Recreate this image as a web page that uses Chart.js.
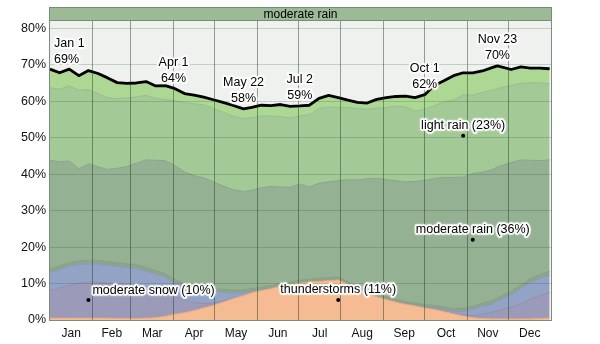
<!DOCTYPE html>
<html>
<head>
<meta charset="utf-8">
<script src="https://cdn.jsdelivr.net/npm/chart.js@4.4.0/dist/chart.umd.min.js"></script>
<style>
  html, body { margin: 0; padding: 0; background: #fff; }
  #wrap { width: 600px; height: 344px; }
</style>
</head>
<body>
<div id="wrap"><canvas id="chart" width="600" height="344"></canvas></div>
<script>
// Daily chance of each precipitation type (%), sampled through the year.
// days = day of year, 0 = Jan 1
const days = [0, 7, 14, 21, 28, 35, 42, 49, 56, 63, 70, 77, 84, 90, 98, 105, 112, 119, 126, 133,
  141, 147, 154, 161, 168, 175, 182, 189, 196, 203, 210, 217, 224, 231, 238, 245, 252, 259, 266, 273,
  280, 287, 294, 301, 308, 315, 322, 326, 336, 343, 350, 357, 364];

const thunderstorms = [0.5, 0.5, 0.5, 0.5, 0.5, 0.5, 0.5, 0.4, 0.4, 0.4, 0.5, 0.6, 1.0, 1.5, 2.0, 2.6, 3.3, 4.0, 4.9, 5.8,
  6.7, 7.5, 8.1, 8.6, 9.3, 9.6, 10.1, 10.4, 10.6, 10.8, 11.0, 9.8, 8.4, 7.2, 6.4, 5.6, 4.9, 4.3, 3.9, 3.3,
  2.9, 2.3, 1.7, 1.1, 0.6, 0.4, 0.3, 0.3, 0.3, 0.3, 0.3, 0.4, 0.5];

const moderateSnow = [7.5, 8.3, 9.0, 9.5, 10.0, 9.8, 9.7, 9.6, 9.4, 9.0, 8.5, 7.6, 6.5, 5.0, 3.5, 2.2, 1.2, 0.6, 0.3, 0.1,
  0, 0, 0, 0, 0, 0, 0, 0, 0, 0, 0, 0, 0, 0, 0, 0, 0, 0, 0, 0,
  0.1, 0.2, 0.2, 0.3, 0.6, 1.2, 1.8, 2.2, 3.2, 4.1, 5.4, 6.3, 7.0];

const lightSnow = [5.0, 5.0, 5.3, 5.2, 4.9, 5.0, 4.8, 4.7, 4.6, 4.8, 4.4, 4.4, 4.2, 3.8, 3.6, 3.4, 3.3, 3.1, 2.4, 1.5,
  0.8, 0.3, 0.1, 0, 0, 0, 0, 0, 0, 0, 0, 0, 0, 0, 0, 0, 0, 0, 0.1, 0.2,
  0.3, 0.4, 0.5, 0.9, 1.8, 2.2, 2.3, 2.7, 3.5, 4.2, 4.6, 4.8, 4.7];

const heavyRain = [1.0, 1.0, 1.0, 1.0, 1.0, 1.0, 1.0, 1.0, 1.0, 1.0, 1.0, 1.0, 1.0, 1.0, 0.9, 0.9, 0.9, 0.8, 0.8, 0.8,
  0.8, 0.8, 0.8, 0.8, 0.8, 0.8, 0.8, 0.8, 0.8, 0.8, 0.8, 0.8, 0.8, 0.8, 0.8, 0.8, 0.8, 0.7, 0.7, 0.7,
  0.7, 0.7, 0.7, 0.9, 0.8, 0.8, 0.9, 0.9, 0.9, 1.0, 1.0, 1.0, 1.1];

const moderateRain = [29.8, 28.6, 27.8, 25.3, 26.4, 25.7, 25.3, 25.9, 26.7, 27.8, 29.5, 30.2, 31.0, 31.3, 30.6, 30.5, 30.3, 29.4, 28.4, 27.6,
  26.9, 27.0, 27.3, 27.2, 26.4, 26.0, 26.4, 25.3, 26.1, 26.3, 26.4, 27.9, 29.2, 30.7, 31.7, 32.1, 32.5, 32.9, 33.3, 34.1,
  34.8, 35.5, 36.0, 36.0, 36.4, 35.9, 35.9, 35.9, 35.3, 34.3, 32.5, 31.2, 30.6];

const lightRain = [19.9, 19.9, 20.6, 21.5, 20.4, 20.0, 19.7, 19.1, 18.8, 18.2, 17.7, 17.0, 16.8, 17.6, 19.0, 19.7, 20.0, 20.1, 20.2, 20.2,
  20.0, 19.9, 19.7, 19.3, 19.3, 19.0, 18.7, 19.8, 20.5, 20.5, 20.1, 19.8, 19.6, 19.1, 19.2, 19.8, 20.5, 20.6, 19.3, 19.5,
  20.0, 20.7, 21.2, 22.6, 21.5, 21.9, 21.8, 21.5, 21.1, 21.0, 21.3, 21.3, 20.9];

const drizzle = [5.1, 4.5, 4.6, 4.0, 5.2, 5.6, 5.4, 4.4, 4.0, 3.8, 3.8, 3.4, 3.8, 3.4, 2.5, 2.4, 2.1, 2.4, 2.7, 2.9,
  2.7, 2.8, 2.9, 2.9, 3.3, 3.2, 2.7, 2.6, 2.8, 3.2, 2.7, 2.0, 1.7, 1.7, 2.4, 2.7, 2.6, 2.9, 3.7, 4.0,
  5.5, 5.8, 6.7, 6.0, 6.1, 5.9, 6.2, 6.2, 4.4, 4.5, 4.0, 4.1, 4.1];

const monthNames = ['Jan', 'Feb', 'Mar', 'Apr', 'May', 'Jun', 'Jul', 'Aug', 'Sep', 'Oct', 'Nov', 'Dec'];
const monthStarts = [0, 31, 59, 90, 120, 151, 181, 212, 243, 273, 304, 334, 365];
const yTicks = [0, 10, 20, 30, 40, 50, 60, 70, 80];

// dates called out on the total line
const markDays = [0, 90, 141, 182, 273, 326];
const markDates = ['Jan 1', 'Apr 1', 'May 22', 'Jul 2', 'Oct 1', 'Nov 23'];

const titleText = 'moderate rain';

const FONT = '"Liberation Sans", Arial, sans-serif';

// stacked bottom -> top
const layers = [
  { name: 'thunderstorms', values: thunderstorms, fill: '#f5bb92', edge: '#eaa97c', tag: true },
  { name: 'moderate snow', values: moderateSnow, fill: '#9b9bb9', edge: '#8e8fb0', tag: true },
  { name: 'light snow', values: lightSnow, fill: '#92a3c6', edge: '#8898bd' },
  { name: 'heavy rain', values: heavyRain, fill: '#8ca488', edge: '#869e84' },
  { name: 'moderate rain', values: moderateRain, fill: '#94b194', edge: '#89a689', tag: true },
  { name: 'light rain', values: lightRain, fill: '#a3c997', edge: '#97bd8d', tag: true },
  { name: 'drizzle', values: drizzle, fill: '#acd894', edge: '#a0cc8a' }
];

const total = days.map((d, k) => layers.reduce((s, l) => s + l.values[k], 0));
const monthMids = monthNames.map((m, i) => (monthStarts[i] + monthStarts[i + 1]) / 2);

const datasets = [{
  label: 'total',
  data: days.map((d, k) => ({ x: d, y: total[k] })),
  borderColor: '#000',
  borderWidth: 2.8,
  borderJoinStyle: 'round',
  fill: false,
  pointRadius: 0,
  stack: 'total'
}];
layers.forEach((l, i) => {
  datasets.push({
    label: l.name,
    data: days.map((d, k) => ({ x: d, y: l.values[k] })),
    backgroundColor: l.fill,
    borderColor: l.edge,
    borderWidth: 1,
    fill: i === 0 ? 'origin' : '-1',
    pointRadius: 0,
    stack: 'wx'
  });
});

function haloText(ctx, text, x, y, align, size) {
  ctx.save();
  ctx.font = (size || 12) + 'px ' + FONT;
  ctx.textAlign = align;
  ctx.textBaseline = 'middle';
  ctx.lineJoin = 'round';
  ctx.strokeStyle = 'rgba(255,255,255,0.85)';
  ctx.lineWidth = 3.5;
  ctx.shadowColor = 'rgba(255,255,255,0.9)';
  ctx.shadowBlur = 2;
  ctx.strokeText(text, x, y);
  ctx.shadowBlur = 0;
  ctx.fillStyle = '#000';
  ctx.fillText(text, x, y);
  ctx.restore();
}

const plotBg = {
  id: 'plotBg',
  beforeDraw(chart) {
    const { ctx, chartArea: a } = chart;
    ctx.save();
    ctx.fillStyle = '#eef1ee';
    ctx.fillRect(a.left, a.top, a.right - a.left, a.bottom - a.top);
    ctx.restore();
  }
};

const overlay = {
  id: 'overlay',
  afterDraw(chart) {
    const { ctx, chartArea: a } = chart;
    const xs = chart.scales.x, ys = chart.scales.y;

    // frame
    ctx.save();
    ctx.strokeStyle = '#7f8a7f';
    ctx.lineWidth = 1;
    ctx.strokeRect(a.left - 0.5, a.top - 0.5, a.right - a.left + 1, a.bottom - a.top + 1);

    // title bar
    ctx.fillStyle = '#9dba97';
    ctx.fillRect(a.left - 0.5, 7.5, a.right - a.left + 1, a.top - 8);
    ctx.strokeStyle = '#758f75';
    ctx.strokeRect(a.left - 0.5, 7.5, a.right - a.left + 1, a.top - 8);
    ctx.fillStyle = '#000';
    ctx.font = '12px ' + FONT;
    ctx.textAlign = 'center';
    ctx.textBaseline = 'middle';
    ctx.fillText(titleText, (a.left + a.right) / 2, 14.5);
    ctx.restore();

    // date callouts above the total line
    ctx.save();
    ctx.font = '12.5px ' + FONT;
    markDays.forEach((d, i) => {
      const k = days.indexOf(d);
      const px = xs.getPixelForValue(d);
      const py = ys.getPixelForValue(total[k]);
      const pct = Math.round(total[k]) + '%';
      const w = Math.max(ctx.measureText(markDates[i]).width, ctx.measureText(pct).width);
      let x = px, align = 'center';
      if (px - w / 2 < a.left + 2) { x = a.left + 4; align = 'left'; }
      haloText(ctx, pct, x, py - 10, align, 12.5);
      haloText(ctx, markDates[i], x, py - 26, align, 12.5);
    });
    ctx.restore();

    // layer tags at each layer's peak
    let base = days.map(() => 0);
    layers.forEach(l => {
      if (l.tag) {
        let k = 0;
        l.values.forEach((v, j) => { if (v > l.values[k]) k = j; });
        const v = l.values[k];
        const px = xs.getPixelForValue(days[k]);
        const py = ys.getPixelForValue(base[k] + v / 2);
        ctx.save();
        ctx.fillStyle = '#000';
        ctx.beginPath();
        ctx.arc(px, py, 2, 0, Math.PI * 2);
        ctx.fill();
        ctx.font = '12.5px ' + FONT;
        const text = l.name + ' (' + Math.round(v) + '%)';
        const w = ctx.measureText(text).width;
        if (px - w / 2 < a.left + 2) haloText(ctx, text, px + 4, py - 9, 'left', 12.5);
        else haloText(ctx, text, px, py - 10, 'center', 12.5);
        ctx.restore();
      }
      base = base.map((b, j) => b + l.values[j]);
    });
  }
};

new Chart(document.getElementById('chart'), {
  type: 'line',
  data: { datasets },
  plugins: [plotBg, overlay],
  options: {
    responsive: false,
    animation: false,
    layout: { padding: { top: 21, right: 49, left: 0, bottom: 0 } },
    elements: { line: { tension: 0 } },
    plugins: { legend: { display: false }, tooltip: { enabled: false } },
    scales: {
      x: {
        type: 'linear',
        min: 0,
        max: 365,
        afterBuildTicks: s => {
          s.ticks = monthStarts.slice(1, -1).concat(monthMids).sort((p, q) => p - q).map(v => ({ value: v }));
        },
        afterFit: s => { s.height = 24; },
        grid: {
          z: 1,
          drawTicks: false,
          color: c => (c.tick && monthStarts.includes(c.tick.value)) ? 'rgba(25,55,25,0.45)' : 'rgba(0,0,0,0)',
          lineWidth: 1
        },
        border: { display: false },
        ticks: {
          autoSkip: false,
          maxRotation: 0,
          padding: 6,
          color: '#111',
          font: { family: FONT, size: 12 },
          callback: v => {
            const i = monthMids.indexOf(v);
            return i >= 0 ? monthNames[i] : '';
          }
        }
      },
      y: {
        stacked: true,
        min: 0,
        max: 82,
        afterBuildTicks: s => { s.ticks = yTicks.map(v => ({ value: v })); },
        afterFit: s => { s.width = 50; },
        grid: { z: 1, drawTicks: false, color: 'rgba(30,70,30,0.2)' },
        border: { display: false },
        ticks: {
          padding: 4,
          color: '#111',
          font: { family: FONT, size: 12.5 },
          callback: v => v + '%'
        }
      }
    }
  }
});
</script>
</body>
</html>
